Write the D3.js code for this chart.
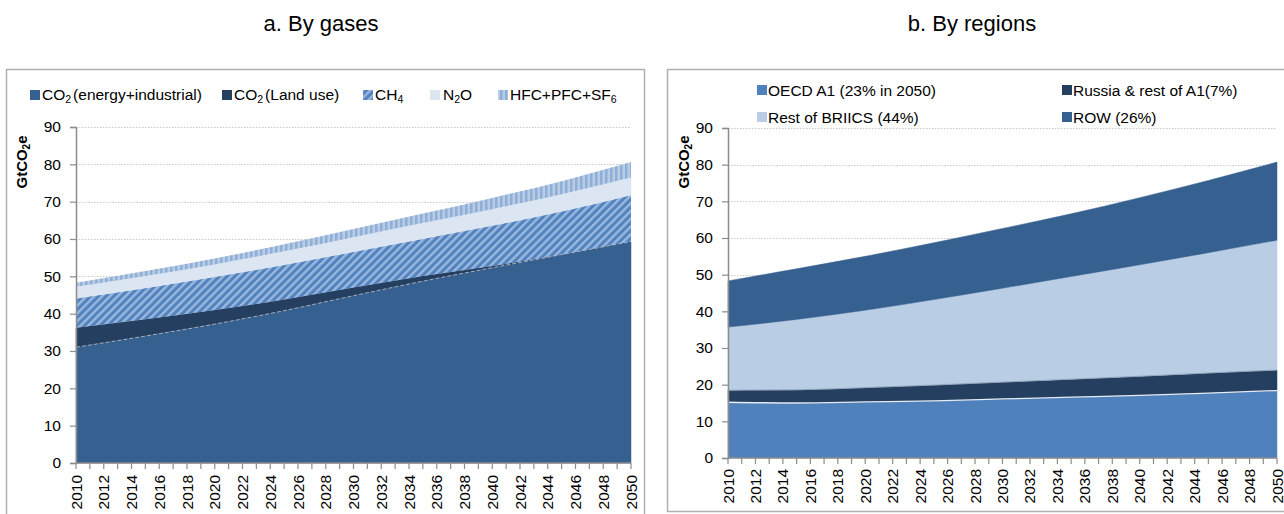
<!DOCTYPE html>
<html>
<head>
<meta charset="utf-8">
<script src="https://cdn.jsdelivr.net/npm/d3@7"></script>
<style>
  html, body { margin: 0; padding: 0; background: #fff; }
  svg { display: block; font-family: "Liberation Sans", Arial, sans-serif; }
</style>
</head>
<body>
<svg id="chart" width="1284" height="514"></svg>
<script>
// ---------------- DATA ----------------
const years = [2010, 2015, 2020, 2025, 2030, 2035, 2040, 2045, 2050];
const tickYears = d3.range(2010, 2051, 2);
const allYears = d3.range(2010, 2051, 1);
const yTicks = [0, 10, 20, 30, 40, 50, 60, 70, 80, 90];

// a. By gases (GtCO2e)
const co2Energy  = [31.0, 34.0, 37.2, 40.8, 44.8, 48.7, 52.3, 55.8, 59.3];
const co2LandUse = [5.2, 4.5, 3.8, 3.0, 2.2, 1.4, 0.5, 0.0, 0.0];
const ch4        = [7.9, 8.4, 8.9, 9.3, 9.6, 10.0, 10.8, 11.6, 12.5];
const n2o        = [3.1, 3.2, 3.3, 3.6, 3.9, 4.2, 4.4, 4.6, 4.7];
const fgases     = [1.1, 1.3, 1.6, 1.9, 2.2, 2.5, 3.0, 3.5, 4.1];

// b. By regions (GtCO2e)
const oecdA1     = [15.2, 15.0, 15.3, 15.6, 16.1, 16.6, 17.1, 17.7, 18.4];
const russiaA1   = [3.3, 3.6, 3.9, 4.3, 4.6, 4.9, 5.2, 5.5, 5.6];
const restBriics = [17.2, 19.2, 21.1, 23.3, 25.6, 28.0, 30.4, 32.8, 35.4];
const row        = [12.6, 13.8, 14.7, 15.5, 16.3, 17.1, 18.3, 19.7, 21.3];

const titles = ["a. By gases", "b. By regions"];

// ---------------- DRAW ----------------
const svg = d3.select("#chart");
const defs = svg.append("defs");

// CH4 diagonal hatch
const p1 = defs.append("pattern").attr("id", "hatchCH4").attr("patternUnits", "userSpaceOnUse")
  .attr("width", 5.5).attr("height", 5.5).attr("patternTransform", "rotate(45)");
p1.append("rect").attr("width", 5.5).attr("height", 5.5).attr("fill", "#5283C0");
p1.append("rect").attr("x", 0).attr("width", 2.4).attr("height", 5.5).attr("fill", "#9BB8DD");

// F-gases vertical stripes
const p2 = defs.append("pattern").attr("id", "stripeF").attr("patternUnits", "userSpaceOnUse")
  .attr("width", 5).attr("height", 5);
p2.append("rect").attr("width", 5).attr("height", 5).attr("fill", "#B8CCE4");
p2.append("rect").attr("width", 2.5).attr("height", 5).attr("fill", "#8FAFD9");

// Panel borders
svg.append("rect").attr("x", 6.5).attr("y", 69.5).attr("width", 638).attr("height", 480)
  .attr("fill", "none").attr("stroke", "#B0B0B0").attr("stroke-width", 1.5);
svg.append("rect").attr("x", 667.5).attr("y", 69.5).attr("width", 640).attr("height", 442)
  .attr("fill", "none").attr("stroke", "#B0B0B0").attr("stroke-width", 1.5);

// Titles
svg.append("text").attr("x", 321).attr("y", 31).attr("text-anchor", "middle")
  .attr("font-size", 22).attr("fill", "#000").text(titles[0]);
svg.append("text").attr("x", 972).attr("y", 31).attr("text-anchor", "middle")
  .attr("font-size", 22).attr("fill", "#000").text(titles[1]);

function drawPanel(cfg) {
  const x = d3.scaleLinear().domain([2010, 2050]).range([cfg.x0, cfg.x1]);
  const y = d3.scaleLinear().domain([0, 90]).range([cfg.y0, cfg.y1]);
  const g = svg.append("g");

  // gridlines
  g.append("g").selectAll("line").data(yTicks.filter(d => d > 0)).join("line")
    .attr("x1", cfg.x0).attr("x2", cfg.x1)
    .attr("y1", d => Math.round(y(d)) + 0.5).attr("y2", d => Math.round(y(d)) + 0.5)
    .attr("stroke", "#C8C8C8").attr("stroke-width", 1).attr("stroke-dasharray", "1.5,1.5");

  // stacked areas
  const table = years.map((yr, i) => {
    const o = { year: yr };
    cfg.series.forEach(s => { o[s.key] = s.values[i]; });
    return o;
  });
  const stack = d3.stack().keys(cfg.series.map(s => s.key));
  const layers = stack(table);
  const area = d3.area().curve(d3.curveMonotoneX)
    .x(d => x(d.data.year)).y0(d => y(d[0])).y1(d => y(d[1]));
  const topLine = d3.line().curve(d3.curveMonotoneX)
    .x(d => x(d.data.year)).y(d => y(d[1]));

  g.append("g").selectAll("path").data(layers).join("path")
    .attr("d", area)
    .attr("fill", (d, i) => cfg.series[i].fill)
    .attr("stroke", (d, i) => cfg.series[i].fill.startsWith("url") ? "none" : cfg.series[i].fill)
    .attr("stroke-width", 0.5);

  // separation lines
  layers.forEach((L, i) => {
    const s = cfg.series[i];
    if (s.edge) {
      g.append("path").attr("d", topLine(L)).attr("fill", "none")
        .attr("stroke", s.edge).attr("stroke-width", s.edgeWidth || 1)
        .attr("stroke-dasharray", s.edgeDash || null);
    }
  });

  // y axis
  const yAxis = d3.axisLeft(y).tickValues(yTicks).tickSize(6).tickPadding(9).tickFormat(d3.format("d"));
  const ya = g.append("g").attr("transform", `translate(${cfg.x0},0)`).call(yAxis);
  ya.select(".domain").attr("stroke", "#8C8C8C").attr("stroke-width", 1.5);
  ya.selectAll(".tick line").attr("stroke", "#8C8C8C").attr("stroke-width", 1.2);
  ya.selectAll("text").attr("font-size", 15.5).attr("fill", "#000")
    .attr("font-family", "'Liberation Sans', Arial, sans-serif");

  // x axis (minor ticks every year, labels every 2 years)
  const xa = g.append("g").attr("transform", `translate(0,${cfg.y0})`);
  xa.append("line").attr("x1", cfg.x0).attr("x2", cfg.x1).attr("y1", 0).attr("y2", 0)
    .attr("stroke", "#8C8C8C").attr("stroke-width", 1.5);
  xa.selectAll("line.tk").data(allYears).join("line").attr("class", "tk")
    .attr("x1", d => x(d)).attr("x2", d => x(d)).attr("y1", 0).attr("y2", 6)
    .attr("stroke", "#8C8C8C").attr("stroke-width", 1.2);
  xa.selectAll("text").data(tickYears).join("text")
    .attr("transform", d => `translate(${x(d) + 5.5},${cfg.lblOff}) rotate(-90)`)
    .attr("text-anchor", "end").attr("font-size", 15.5).attr("fill", "#000")
    .text(d => d);

  // y-axis title
  const yt = svg.append("text")
    .attr("transform", `translate(${cfg.ytX},162) rotate(-90)`)
    .attr("text-anchor", "middle").attr("font-size", 15).attr("font-weight", "bold").attr("fill", "#000");
  yt.append("tspan").text("GtCO");
  yt.append("tspan").attr("font-size", 10).attr("dy", 3).text("2");
  yt.append("tspan").attr("dy", -3).text("e");
}

drawPanel({
  x0: 76, x1: 631, y0: 463, y1: 127, lblOff: 12, ytX: 27,
  series: [
    { key: "energy", values: co2Energy, fill: "#36608F", edge: "#AEB9C8", edgeWidth: 0.9, edgeDash: "4,2" },
    { key: "landuse", values: co2LandUse, fill: "#243F60" },
    { key: "ch4", values: ch4, fill: "url(#hatchCH4)" },
    { key: "n2o", values: n2o, fill: "#DCE6F2" },
    { key: "f", values: fgases, fill: "url(#stripeF)" }
  ]
});

drawPanel({
  x0: 728, x1: 1277, y0: 458, y1: 128, lblOff: 11, ytX: 689,
  series: [
    { key: "oecd", values: oecdA1, fill: "#4F81BD", edge: "#E6ECF4", edgeWidth: 1.3 },
    { key: "russia", values: russiaA1, fill: "#243F60", edge: "#8E9FB5", edgeWidth: 0.8 },
    { key: "briics", values: restBriics, fill: "#B9CDE5" },
    { key: "row", values: row, fill: "#36608F" }
  ]
});

// ---------------- LEGENDS ----------------
// parts: list of {t, sub}
function legendItem(sx, sy, fill, tx, ty, parts) {
  svg.append("rect").attr("x", sx).attr("y", sy).attr("width", 10).attr("height", 10).attr("fill", fill);
  const t = svg.append("text").attr("x", tx).attr("y", ty).attr("font-size", 15.5).attr("fill", "#000");
  let lowered = false;
  parts.forEach(p => {
    const ts = t.append("tspan").text(p.t);
    if (p.sub) {
      ts.attr("font-size", 10.5).attr("dy", 3);
      lowered = true;
    } else if (lowered) {
      ts.attr("dy", -3);
      if (p.dx) ts.attr("dx", p.dx);
      lowered = false;
    }
  });
}

legendItem(30, 90, "#36608F", 42, 100, [{ t: "CO" }, { t: "2", sub: true }, { t: "(energy+industrial)", dx: 2 }]);
legendItem(222, 90, "#243F60", 234, 100, [{ t: "CO" }, { t: "2", sub: true }, { t: "(Land use)", dx: 2 }]);
legendItem(363, 90, "url(#hatchCH4)", 375, 100, [{ t: "CH" }, { t: "4", sub: true }]);
legendItem(430, 90, "#DCE6F2", 443, 100, [{ t: "N" }, { t: "2", sub: true }, { t: "O" }]);
legendItem(498, 90, "url(#stripeF)", 510, 100, [{ t: "HFC+PFC+SF" }, { t: "6", sub: true }]);

legendItem(757, 85, "#4F81BD", 768, 96, [{ t: "OECD A1 (23%  in 2050)" }]);
legendItem(1062, 85, "#243F60", 1073, 96, [{ t: "Russia & rest of A1(7%)" }]);
legendItem(757, 112, "#B9CDE5", 768, 123, [{ t: "Rest of BRIICS (44%)" }]);
legendItem(1062, 112, "#36608F", 1073, 123, [{ t: "ROW (26%)" }]);
</script>
</body>
</html>
